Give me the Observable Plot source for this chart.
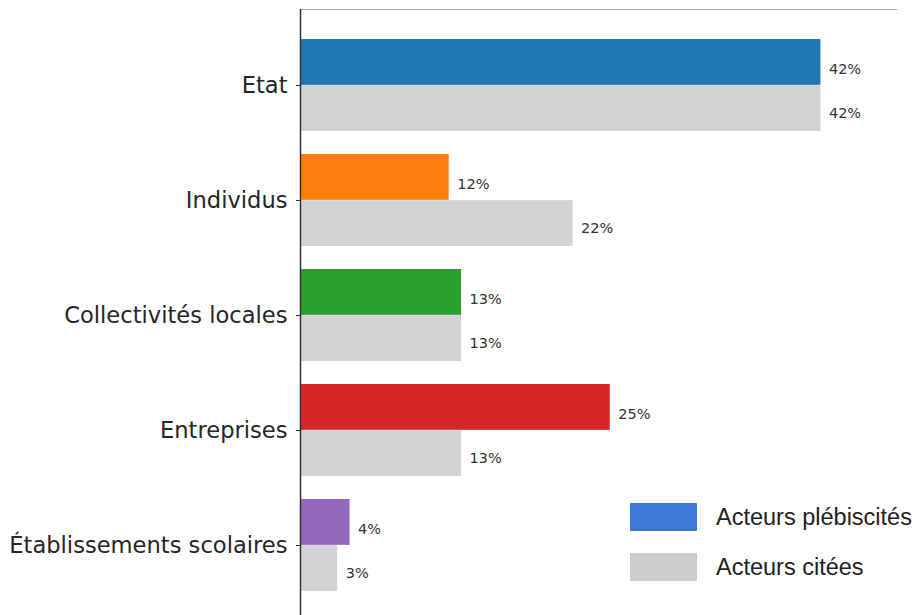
<!DOCTYPE html>
<html>
<head>
<meta charset="utf-8">
<script src="https://cdn.jsdelivr.net/npm/d3@7"></script>
<script src="https://cdn.jsdelivr.net/npm/@observablehq/plot@0.6"></script>
<style>
  html, body { margin: 0; padding: 0; background: #fff; overflow: hidden; }
  #wrap { position: relative; width: 916px; height: 615px; }
  #legend { position: absolute; left: 630px; top: 503px; font-family: "Liberation Sans", Arial, sans-serif; font-size: 23.5px; color: #222; }
  .item { display: flex; align-items: center; height: 28px; margin-bottom: 22px; }
  .sw { width: 67px; height: 28px; margin-right: 19px; border-radius: 1px; }
</style>
</head>
<body>
<div id="wrap"></div>
<script>
const categories = ["Etat", "Individus", "Collectivités locales", "Entreprises", "Établissements scolaires"];
const plebiscites = [42, 12, 13, 25, 4];
const citees = [42, 22, 13, 13, 3];
const colors = ["#1f77b4", "#ff7f0e", "#2ca02c", "#d62728", "#9467bd"];
const citeesColor = "#d3d3d3";
const legendLabels = ["Acteurs plébiscités", "Acteurs citées"];
const legendColors = ["#3c78d8", "#cccccc"];

const rowsA = categories.map((c, i) => ({cat: c, v: plebiscites[i], color: colors[i]}));
const rowsB = categories.map((c, i) => ({cat: c, v: citees[i]}));

const yRange = [8, 615], pIn = 0.2, pOut = 0.23, yAlign = 0.56;
const band = d3.scaleBand().domain(categories).range(yRange).paddingInner(pIn).paddingOuter(pOut).align(yAlign);
const half = band.bandwidth() / 2;

const chart = Plot.plot({
  width: 916,
  height: 615,
  marginLeft: 300,
  marginRight: 20,
  marginTop: 9,
  marginBottom: 0,
  style: {fontFamily: "DejaVu Sans, sans-serif", background: "transparent"},
  x: {domain: [0, 48.1], axis: null},
  y: {domain: categories, range: yRange, paddingInner: pIn, paddingOuter: pOut, align: yAlign, label: null},
  marks: [
    Plot.barX(rowsA, {y: "cat", x1: 0, x2: "v", fill: "color", insetBottom: half}),
    Plot.barX(rowsB, {y: "cat", x1: 0, x2: "v", fill: citeesColor, insetTop: half}),
    Plot.text(rowsA, {y: "cat", x: "v", text: d => d.v + "%", dx: 8, dy: -half / 2 + 7, textAnchor: "start", fontSize: 14.5, fill: "#333"}),
    Plot.text(rowsB, {y: "cat", x: "v", text: d => d.v + "%", dx: 8, dy: half / 2 + 5, textAnchor: "start", fontSize: 14.5, fill: "#333"}),
    Plot.axisY({tickSize: 4, tickPadding: 9, fontSize: 22.6, label: null, stroke: "#333", fill: "#262626"}),
    Plot.frame({anchor: "top", stroke: "#aaa"}),
    Plot.ruleX([0], {stroke: "#333", strokeWidth: 1.5})
  ]
});
const wrap = document.getElementById("wrap");
wrap.appendChild(chart);

const legend = document.createElement("div");
legend.id = "legend";
legendLabels.forEach((l, i) => {
  const it = document.createElement("div");
  it.className = "item";
  const sw = document.createElement("div");
  sw.className = "sw";
  sw.style.background = legendColors[i];
  const tx = document.createElement("span");
  tx.textContent = l;
  it.appendChild(sw); it.appendChild(tx);
  legend.appendChild(it);
});
wrap.appendChild(legend);
</script>
</body>
</html>
